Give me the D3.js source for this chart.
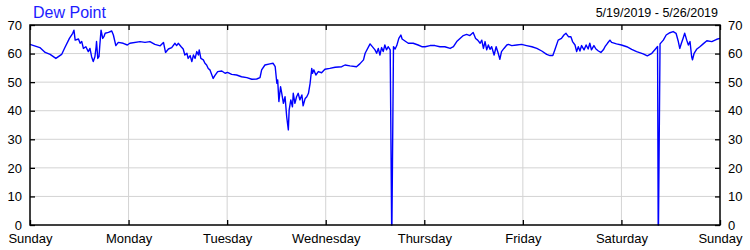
<!DOCTYPE html>
<html>
<head>
<meta charset="utf-8">
<script src="https://cdn.jsdelivr.net/npm/d3@7"></script>
<style>
    html, body { margin: 0; padding: 0; background: #fff; }
    svg { display: block; font-family: "Liberation Sans", Arial, sans-serif; }
</style>
</head>
<body>
<svg id="chart"></svg>
<script>
'use strict';

// hours since Sunday 00:00 and dew point (F)
const hours = [
    0, 2.4, 3.7, 4.9, 6.3, 7.7, 8.5, 9.6, 10.4, 10.7, 11.0, 11.8, 12.2, 12.6, 13.0, 13.6, 14.2, 14.6, 15.0, 15.4,
    15.8, 16.1, 16.2, 16.5, 16.8, 17.0, 17.3, 17.7, 18.0, 18.3, 19.1, 19.9, 20.3, 20.9, 21.5, 22.7, 23.7, 24.3, 26.8, 28.0,
    29.2, 30.4, 31.7, 32.5, 33.0, 33.7, 34.5, 35.3, 35.7, 36.1, 36.8, 37.3, 37.7, 38.2, 38.5, 39.0, 39.4, 39.8, 40.2, 40.6,
    41.0, 41.2, 41.6, 42.2, 42.6, 43.0, 43.4, 43.8, 44.6, 45.0, 45.7, 46.7, 47.5, 48.1, 49.1, 50.3, 51.5, 52.8, 54.0, 55.2,
    56.0, 56.4, 57.2, 58.4, 59.2, 59.7, 60.1, 60.3, 60.6, 61.0, 61.3, 61.7, 62.1, 62.5, 62.9, 63.1, 63.5, 63.9, 64.1, 64.5,
    64.9, 65.3, 65.7, 66.2, 66.5, 67.0, 67.4, 67.8, 68.2, 68.6, 68.8, 69.1, 69.6, 70.2, 71.0, 71.8, 73.0, 74.3, 75.9, 76.7,
    77.9, 79.5, 80.3, 81.2, 81.6, 82.8, 84.0, 84.4, 84.8, 85.2, 85.6, 86.0, 86.4, 86.8, 87.2, 87.7, 88.05, 88.12, 88.5, 88.9,
    89.3, 89.8, 90.3, 90.6, 91.3, 92.1, 93.3, 94.5, 95.4, 96.2, 97.4, 98.6, 99.8, 101.0, 102.3, 103.1, 103.9, 104.7, 105.5, 106.3,
    107.1, 107.9, 108.5, 109.0, 109.6, 110.0, 110.4, 110.8, 111.2, 111.6, 112.0, 112.4, 113.0, 113.5, 114.0, 114.4, 114.8, 115.4, 116.1, 116.5,
    117.3, 118.5, 119.7, 120.9, 122.2, 123.4, 124.6, 125.8, 126.6, 127.3, 127.8, 128.6, 129.4, 130.0, 130.5, 131.1, 131.7, 132.1, 132.7, 133.1,
    133.5, 133.9, 134.3, 134.9, 135.4, 135.9, 136.3, 136.7, 137.3, 137.8, 138.4, 139.0, 139.6, 140.0, 140.6, 141.2, 141.6, 142.8, 144.0, 145.3,
    146.5, 147.7, 149.3, 150.3, 151.4, 152.4, 152.8, 152.95, 153.02, 153.4, 154.2, 154.9, 155.8, 156.6, 157.3, 157.8, 158.2, 158.6, 159.0, 159.4,
    159.9, 160.3, 160.7, 161.1, 161.3, 161.7, 162.3, 163.1, 163.9, 164.8, 166.0, 167.2, 168.0
];
const dewPoint = [
    63.2, 62.1, 60.4, 59.7, 58.3, 59.7, 62.1, 65.3, 67.1, 68.2, 64.7, 65.1, 63.6, 64.2, 61.8, 62.4, 60.7, 61.8, 58.9, 57.2,
    58.9, 62.4, 64.2, 58.3, 58.9, 63.0, 68.2, 65.3, 65.9, 67.1, 67.4, 67.9, 66.5, 62.8, 63.9, 63.6, 63.0, 63.6, 64.2, 63.9,
    64.2, 63.2, 62.7, 63.9, 60.4, 61.6, 62.1, 63.6, 62.8, 63.6, 62.4, 61.6, 59.5, 60.1, 58.3, 59.3, 57.2, 59.5, 58.3, 60.7,
    59.5, 61.3, 58.3, 57.8, 56.6, 56.0, 54.8, 54.3, 51.3, 52.3, 53.7, 53.9, 53.1, 53.4, 52.7, 52.5, 51.9, 51.6, 51.0, 51.1,
    51.6, 54.3, 56.0, 56.4, 56.6, 55.4, 49.6, 50.8, 43.2, 48.4, 46.1, 42.6, 44.9, 37.9, 33.3, 40.3, 43.8, 41.4, 46.1, 42.6,
    44.9, 46.1, 43.8, 45.5, 41.7, 44.3, 44.9, 46.1, 49.6, 54.8, 53.1, 54.3, 52.5, 53.7, 53.3, 54.5, 54.8, 55.2, 55.4, 56.0,
    55.7, 55.4, 56.4, 57.8, 60.1, 63.4, 61.3, 60.1, 61.8, 59.5, 62.1, 60.7, 63.0, 61.3, 62.4, 61.3, 0, 0, 62.4, 61.6,
    62.8, 65.3, 66.5, 65.1, 64.4, 63.6, 63.6, 63.0, 62.4, 62.4, 62.8, 62.8, 62.4, 62.4, 61.8, 62.4, 64.2, 65.3, 66.3, 66.7,
    66.3, 67.4, 65.3, 64.7, 63.6, 64.7, 61.8, 64.2, 61.3, 63.0, 61.5, 62.4, 59.5, 62.4, 60.1, 58.0, 60.7, 61.8, 63.0, 63.2,
    62.8, 63.0, 63.2, 62.8, 62.4, 61.8, 60.9, 59.7, 59.3, 59.3, 61.3, 64.7, 65.3, 66.5, 67.1, 65.9, 65.9, 64.2, 63.0, 60.7,
    62.4, 60.9, 62.8, 61.3, 63.0, 61.6, 63.6, 61.3, 62.8, 61.6, 60.9, 60.4, 61.3, 62.4, 63.6, 64.7, 63.9, 63.4, 63.0, 62.4,
    61.5, 60.7, 59.9, 59.2, 60.1, 61.8, 62.5, 0, 0, 63.4, 64.7, 66.5, 67.3, 67.7, 67.1, 64.5, 61.8, 63.6, 65.3, 67.1,
    64.7, 63.0, 64.2, 58.9, 57.8, 60.1, 61.5, 62.4, 63.4, 64.5, 64.2, 65.0, 65.3
];
const dayLabels = ['Sunday', 'Monday', 'Tuesday', 'Wednesday', 'Thursday', 'Friday', 'Saturday', 'Sunday'];
const yTicks = [0, 10, 20, 30, 40, 50, 60, 70];
const titleText = 'Dew Point';
const rangeText = '5/19/2019 - 5/26/2019';

(function () {
    const width = 750;
    const height = 250;
    const margin = { top: 25, right: 30, bottom: 25, left: 30 };

    const x = d3.scaleLinear()
        .domain([0, 168])
        .range([margin.left, width - margin.right]);
    const y = d3.scaleLinear()
        .domain([0, 70])
        .range([height - margin.bottom, margin.top]);

    const dayHours = dayLabels.map((d, i) => i * 24);
    const data = hours.map((h, i) => ({ h: h, v: dewPoint[i] }));

    const svg = d3.select('#chart')
        .attr('width', width)
        .attr('height', height);

    // grid
    svg.append('g')
        .selectAll('line')
        .data(yTicks.slice(1, -1))
        .enter().append('line')
        .attr('x1', x(0)).attr('x2', x(168))
        .attr('y1', d => y(d)).attr('y2', d => y(d))
        .attr('stroke', '#d3d3d3')
        .attr('stroke-width', 1);

    svg.append('g')
        .selectAll('line')
        .data(dayHours.slice(1, -1))
        .enter().append('line')
        .attr('x1', d => x(d)).attr('x2', d => x(d))
        .attr('y1', y(0)).attr('y2', y(70))
        .attr('stroke', '#d3d3d3')
        .attr('stroke-width', 1);

    // the series
    const line = d3.line()
        .x(d => x(d.h))
        .y(d => y(d.v));

    svg.append('path')
        .datum(data)
        .attr('fill', 'none')
        .attr('stroke', '#0000ff')
        .attr('stroke-width', 1.4)
        .attr('stroke-linejoin', 'round')
        .attr('d', line);

    // axes
    const xTickFmt = (d, i) => dayLabels[i];

    svg.append('g')
        .attr('transform', 'translate(0,' + y(0) + ')')
        .call(d3.axisBottom(x).tickValues(dayHours).tickSize(-5).tickPadding(9).tickFormat(xTickFmt))
        .call(g => g.select('.domain').remove());

    svg.append('g')
        .attr('transform', 'translate(0,' + y(70) + ')')
        .call(d3.axisTop(x).tickValues(dayHours).tickSize(-5).tickFormat(''))
        .call(g => g.select('.domain').remove());

    svg.append('g')
        .attr('transform', 'translate(' + x(0) + ',0)')
        .call(d3.axisLeft(y).tickValues(yTicks).tickSize(-5).tickPadding(8))
        .call(g => g.select('.domain').remove());

    svg.append('g')
        .attr('transform', 'translate(' + x(168) + ',0)')
        .call(d3.axisRight(y).tickValues(yTicks).tickSize(-5).tickPadding(8))
        .call(g => g.select('.domain').remove());

    svg.selectAll('.tick line')
        .attr('stroke', '#000')
        .attr('stroke-width', 1.3);
    svg.selectAll('.tick text')
        .attr('fill', '#000')
        .style('font-size', '13px')
        .style('font-family', '"Liberation Sans", Arial, sans-serif');

    // frame
    svg.append('rect')
        .attr('x', x(0))
        .attr('y', y(70))
        .attr('width', x(168) - x(0))
        .attr('height', y(0) - y(70))
        .attr('fill', 'none')
        .attr('stroke', '#000')
        .attr('stroke-width', 1.5);

    svg.append('text')
        .attr('x', 33)
        .attr('y', 18)
        .attr('fill', '#1c1cff')
        .style('font-size', '16px')
        .text(titleText);

    svg.append('text')
        .attr('x', 718)
        .attr('y', 17)
        .attr('text-anchor', 'end')
        .attr('fill', '#000')
        .style('font-size', '12.5px')
        .text(rangeText);
})();
</script>
</body>
</html>
